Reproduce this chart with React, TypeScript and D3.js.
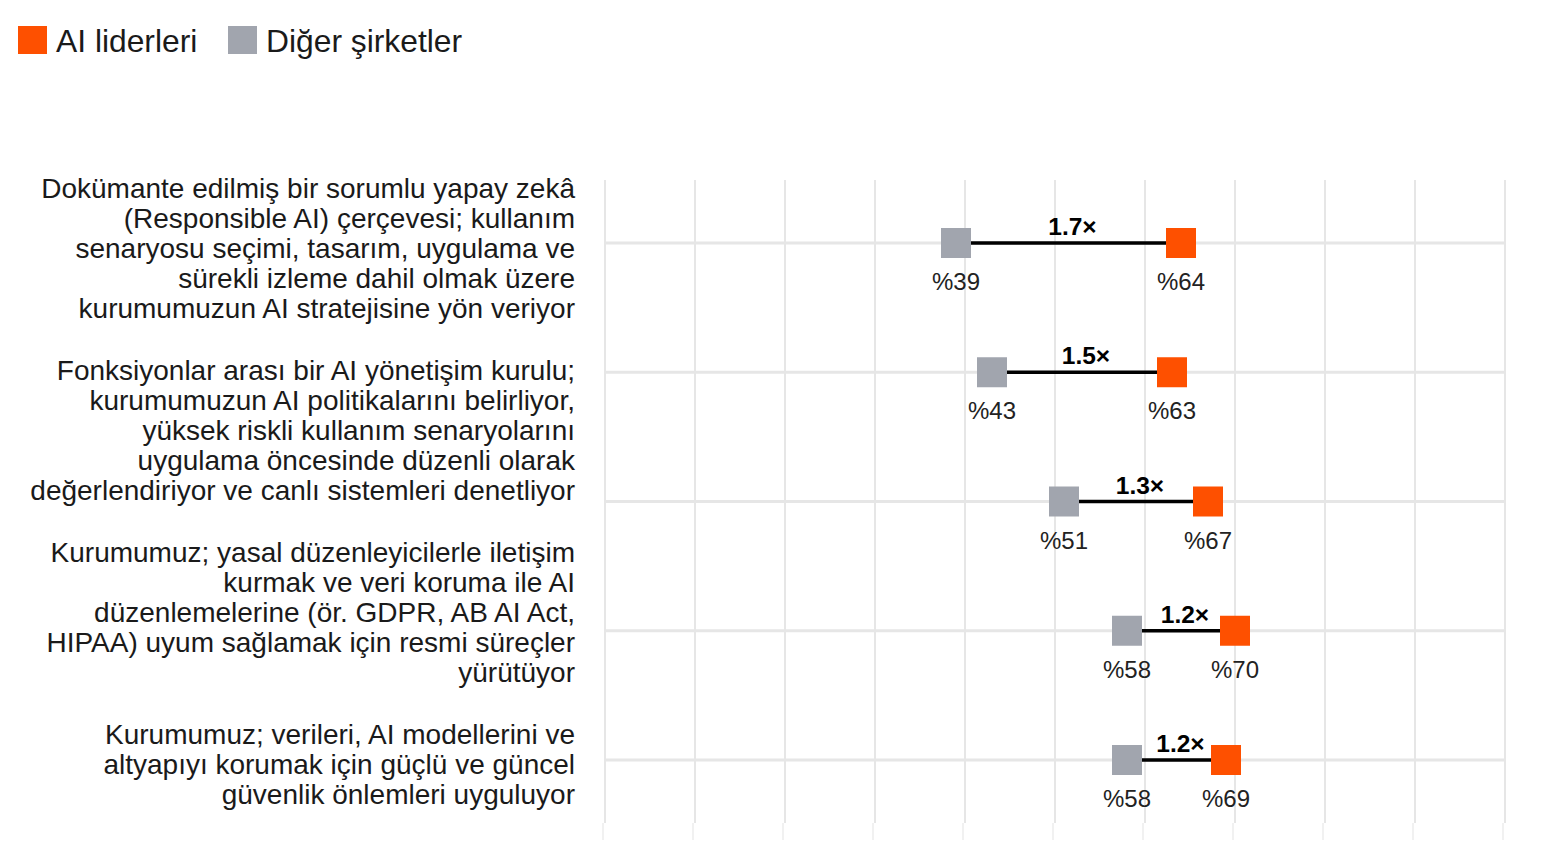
import React from 'react'
import * as d3 from 'd3'

// Series values (percent of companies)
const leaders = [64, 63, 67, 70, 69]
const others = [39, 43, 51, 58, 58]
const ratios = ['1.7×', '1.5×', '1.3×', '1.2×', '1.2×']

// Category labels, already broken into lines
const labelBlocks = [
  [
    'Dokümante edilmiş bir sorumlu yapay zekâ',
    '(Responsible AI) çerçevesi; kullanım',
    'senaryosu seçimi, tasarım, uygulama ve',
    'sürekli izleme dahil olmak üzere',
    'kurumumuzun AI stratejisine yön veriyor'
  ],
  [
    'Fonksiyonlar arası bir AI yönetişim kurulu;',
    'kurumumuzun AI politikalarını belirliyor,',
    'yüksek riskli kullanım senaryolarını',
    'uygulama öncesinde düzenli olarak',
    'değerlendiriyor ve canlı sistemleri denetliyor'
  ],
  [
    'Kurumumuz; yasal düzenleyicilerle iletişim',
    'kurmak ve veri koruma ile AI',
    'düzenlemelerine (ör. GDPR, AB AI Act,',
    'HIPAA) uyum sağlamak için resmi süreçler',
    'yürütüyor'
  ],
  [
    'Kurumumuz; verileri, AI modellerini ve',
    'altyapıyı korumak için güçlü ve güncel',
    'güvenlik önlemleri uyguluyor'
  ]
]

const legendItems = ['AI liderleri', 'Diğer şirketler']
const xTicks = d3.range(0, 101, 10)

const ORANGE = '#fe5000'
const GRAY = '#a1a5ae'
const GRID = '#e6e6e6'
const FONT = '"Liberation Sans", Arial, Helvetica, sans-serif'

const width = 1550
const height = 863
const plotLeft = 605
const plotRight = 1505
const gridTop = 180
const gridBottom = 823
const box = 30
const lineGap = 30

export default function App() {
  const x = d3.scaleLinear().domain([0, 100]).range([plotLeft, plotRight])
  const y = d3.scalePoint<number>().domain(d3.range(leaders.length)).range([243, 760])
  const labelY = d3.scalePoint<number>().domain(d3.range(labelBlocks.length)).range([188, 734])
  const legendColor = [ORANGE, GRAY]
  const legendX = [18, 228]

  return (
    <div style={{ position: 'absolute', left: 0, top: 0, background: '#fff' }}>
      <svg width={width} height={height} style={{ display: 'block', fontFamily: FONT }}>
        <rect width={width} height={height} fill='#fff' />

        {/* legend */}
        {legendItems.map((name, i) => (
          <g key={name}>
            <rect x={legendX[i]} y={26} width={29} height={28} fill={legendColor[i]} />
            <text x={legendX[i] + 38} y={52} fontSize={31.8} fill='#1a1a1a'>
              {name}
            </text>
          </g>
        ))}

        {/* vertical grid and small ticks below */}
        {xTicks.map((t) => (
          <g key={t}>
            <line x1={x(t)} x2={x(t)} y1={gridTop} y2={gridBottom} stroke={GRID} strokeWidth={2} />
            <line x1={x(t) - 2} x2={x(t) - 2} y1={gridBottom} y2={840} stroke='#f1f1f1' strokeWidth={2} />
          </g>
        ))}

        {/* row baselines */}
        {leaders.map((_, i) => (
          <line
            key={i}
            x1={plotLeft}
            x2={plotRight}
            y1={y(i)}
            y2={y(i)}
            stroke={GRID}
            strokeWidth={3}
          />
        ))}

        {/* category labels */}
        {labelBlocks.map((lines, b) => (
          <text key={b} textAnchor='end' fontSize={28} fill='#1a1a1a'>
            {lines.map((ln, k) => (
              <tspan key={k} x={575} y={(labelY(b) as number) + k * lineGap + 10}>
                {ln}
              </tspan>
            ))}
          </text>
        ))}

        {/* dumbbells */}
        {leaders.map((lead, i) => {
          const cy = y(i) as number
          const xo = x(others[i])
          const xl = x(lead)
          return (
            <g key={i}>
              <line x1={xo} x2={xl} y1={cy} y2={cy} stroke='#000' strokeWidth={3.5} />
              <rect x={xo - box / 2} y={cy - box / 2} width={box} height={box} fill={GRAY} />
              <rect x={xl - box / 2} y={cy - box / 2} width={box} height={box} fill={ORANGE} />
              <text
                x={(xo + xl) / 2 + 4}
                y={cy - 8}
                textAnchor='middle'
                fontSize={24.5}
                fontWeight='bold'
                fill='#000'
              >
                {ratios[i]}
              </text>
              <text x={xo} y={cy + 47} textAnchor='middle' fontSize={24} fill='#222'>
                %{others[i]}
              </text>
              <text x={xl} y={cy + 47} textAnchor='middle' fontSize={24} fill='#222'>
                %{lead}
              </text>
            </g>
          )
        })}
      </svg>
    </div>
  )
}
